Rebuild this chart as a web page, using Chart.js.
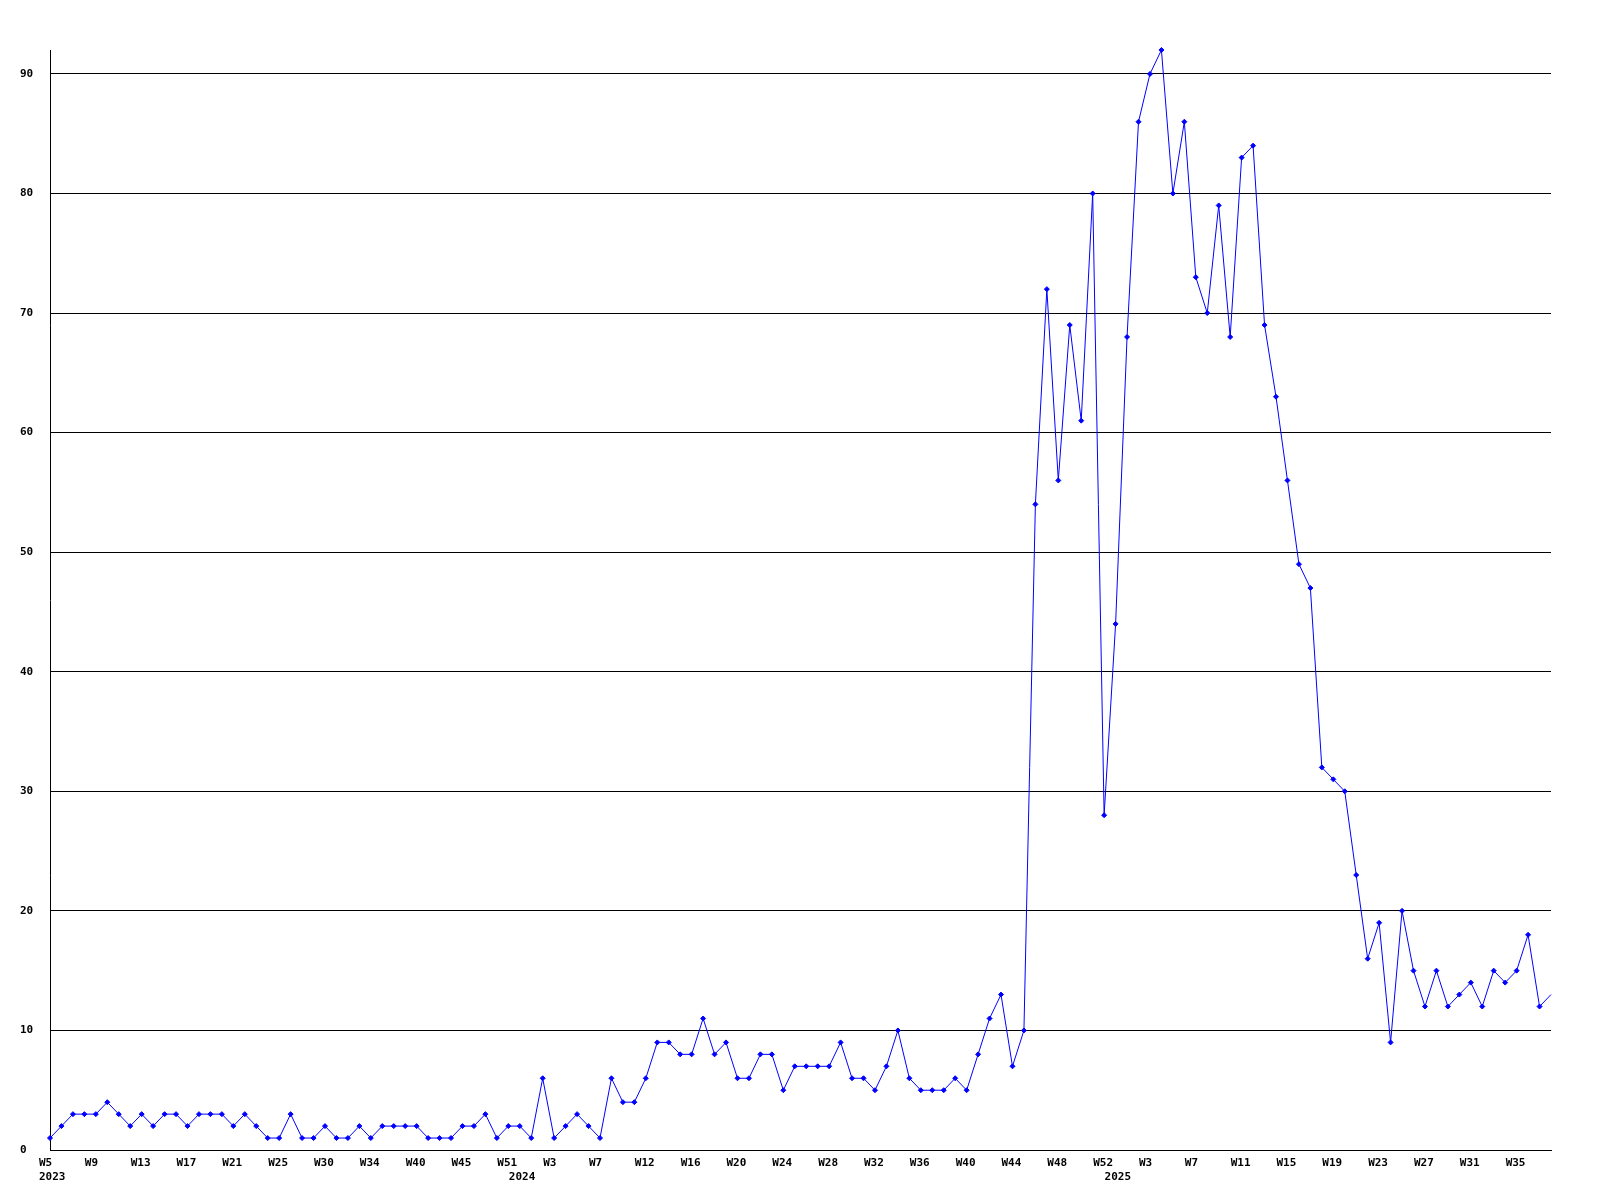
<!DOCTYPE html>
<html>
<head>
<meta charset="utf-8">
<script src="https://cdn.jsdelivr.net/npm/chart.js@4/dist/chart.umd.min.js"></script>
<style>
  html, body { margin: 0; padding: 0; background: #ffffff; }
  #wrap { width: 1600px; height: 1200px; }
</style>
</head>
<body>
<div id="wrap"><canvas id="c" width="1600" height="1200"></canvas></div>
<script>
// ---- Tick labels (categories) ----
const weeks2023 = ['W5','W6','W7','W8','W9','W10','W11','W12','W13','W14','W15','W16','W17','W18','W19','W20','W21','W22','W23','W24','W25',
  'W26','W28','W29','W30','W31','W32','W33','W34','W35','W36','W38','W40','W41','W42','W43','W45','W46','W47','W49','W51','W52'];
const weeks2024 = ['W1','W2','W3','W4','W5','W6','W7','W8','W9','W10','W12','W13','W14','W15','W16','W17','W18','W19','W20','W21','W22',
  'W23','W24','W25','W26','W27','W28','W29','W30','W31','W32','W33','W34','W35','W36','W37','W38','W39','W40','W41','W42','W43','W44',
  'W45','W46','W47','W48','W49','W50','W51','W52','W53'];
const weeks2025 = ['W1','W2','W3','W4','W5','W6','W7','W8','W9','W10','W11','W12','W13','W14','W15','W16','W17','W18','W19','W20',
  'W21','W22','W23','W24','W25','W26','W27','W28','W29','W30','W31','W32','W33','W34','W35','W36','W37','W38'];

// ---- Year labels ----
const yearNames = ['2023', '2024', '2025'];
const yearLabelIndex = [0, 41, 93];

// ---- Series values ----
const values2023 = [1,2,3,3,3,4,3,2,3,2,3,3,2,3,3,3,2,3,2,1,1,3,1,1,2,1,1,2,1,2,2,2,2,1,1,1,2,2,3,1,2,2];
const values2024 = [1,6,1,2,3,2,1,6,4,4,6,9,9,8,8,11,8,9,6,6,8,8,5,7,7,7,7,9,6,6,5,7,10,6,5,5,5,6,5,8,11,13,7,10,
  54,72,56,69,61,80,28,44];
const values2025 = [68,86,90,92,80,86,73,70,79,68,83,84,69,63,56,49,47,32,31,30,23,16,19,9,20,15,12,15,12,13,14,12,15,14,15,18,12,13];

const labels = [...weeks2023, ...weeks2024, ...weeks2025];
const data = [...values2023, ...values2024, ...values2025];
const lastIndex = data.length - 1;

const FONT = { family: "'DejaVu Sans Mono', 'Liberation Mono', monospace", size: 11, weight: 'bold', lineHeight: 1.3 };

new Chart(document.getElementById('c'), {
  type: 'line',
  data: {
    labels: labels,
    datasets: [{
      data: data,
      borderColor: '#0000ff',
      backgroundColor: '#0000ff',
      borderWidth: 1,
      tension: 0,
      fill: false,
      clip: false,
      pointStyle: 'rectRot',
      pointRadius: (ctx) => ctx.dataIndex === lastIndex ? 0 : 2.5,
      pointBorderWidth: 1,
      pointHoverRadius: 0
    }]
  },
  options: {
    responsive: false,
    animation: false,
    events: [],
    layout: { padding: { top: 50, right: 49, bottom: 0, left: 20 } },
    plugins: { legend: { display: false }, tooltip: { enabled: false } },
    scales: {
      x: {
        type: 'category',
        offset: false,
        grid: { display: false, drawTicks: false },
        border: { display: true, color: '#000000', width: 1 },
        ticks: {
          autoSkip: false,
          maxRotation: 0,
          minRotation: 0,
          align: 'start',
          labelOffset: -11,
          padding: 6,
          color: '#000000',
          font: FONT,
          callback: (v, i) => {
            const wk = (i % 4 === 0) ? labels[i] : '';
            const yi = yearLabelIndex.indexOf(i);
            if (yi >= 0) return [wk, yearNames[yi]];
            return wk;
          }
        },
        afterFit: (s) => { s.height = 50; }
      },
      y: {
        min: 0,
        max: Math.max(...data),
        grid: { color: '#000000', lineWidth: 1, drawTicks: false },
        border: { display: true, color: '#000000', width: 1 },
        ticks: {
          stepSize: 10,
          includeBounds: false,
          crossAlign: 'far',
          padding: 0,
          color: '#000000',
          font: FONT
        },
        afterFit: (s) => { s.width = 30; }
      }
    }
  }
});
</script>
</body>
</html>
